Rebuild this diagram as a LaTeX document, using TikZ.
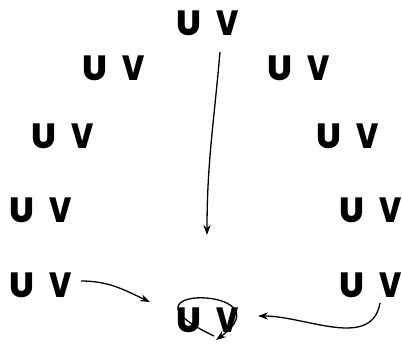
\documentclass[tikz,border=0pt]{standalone}
\usepackage{fontspec}
\usepackage{graphicx}
\newfontfamily\uvfont{Poppins ExtraBold}
\usetikzlibrary{calc,arrows.meta}
\newcommand\UV{U\hspace{7.5pt}\scalebox{0.85}[1]{V}}
\tikzset{
  uv/.style={inner sep=0pt,font=\fontsize{17.5}{18}\selectfont\uvfont}
}
\begin{document}
\begin{tikzpicture}[>={Stealth[length=5pt,width=3.6pt]},x=0.5pt,y=0.5pt,line width=0.65pt]
\useasboundingbox (0,0) rectangle (402,344);
\node[uv] (top) at (208,321) {\UV};
\node[uv] (ul) at (114,276) {\UV};
\node[uv] (ur) at (299,276) {\UV};
\node[uv] (ml) at (63,208) {\UV};
\node[uv] (mr) at (348,208) {\UV};
\node[uv] (ll) at (41,134) {\UV};
\node[uv] (lr) at (371,134) {\UV};
\node[uv] (bl) at (41,59) {\UV};
\node[uv] (br) at (371,59) {\UV};
\node[uv] (bot) at (208,24) {\UV};
\coordinate (drop) at (207,109);
\draw[->]
  ($(top)+(12,-29)$) to[out=-95,in=90] (drop);
\draw[->]
  ($(bl)+(40,4)$) to[out=0,in=155] ($(bot)+(-58,18)$);
\draw[->]
  ($(br)+(9,-18)$) to[out=-100,in=0] ($(bot)+(50,4)$);
\draw[->]
  ($(bot)+(6,-16)$) .. controls ($(bot)+(-105,36)$) and ($(bot)+(82,34)$) .. ($(bot)+(8,-20)$);
\end{tikzpicture}
\end{document}
